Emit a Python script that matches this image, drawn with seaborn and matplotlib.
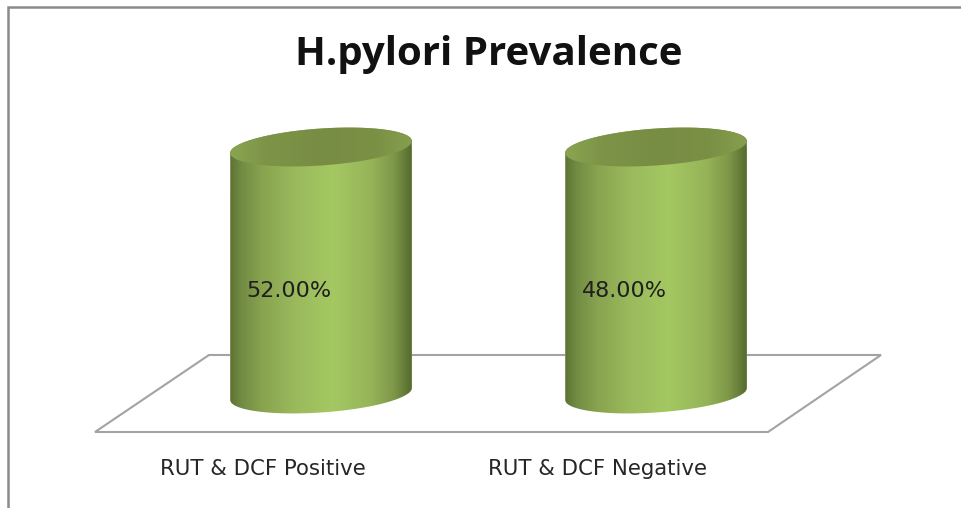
import numpy as np
import seaborn as sns
import matplotlib.pyplot as plt
from matplotlib.colors import LinearSegmentedColormap
from matplotlib.path import Path
from matplotlib.patches import PathPatch, Polygon
from matplotlib.transforms import ScaledTranslation

categories = ["RUT & DCF Positive", "RUT & DCF Negative"]
values = [52.0, 48.0]
title = "H.pylori Prevalence"

W, H = 961, 508

sns.set_theme(style="white")
plt.rcParams["font.family"] = ["Open Sans", "DejaVu Sans"]

fig = plt.figure(figsize=(W / 100, H / 100), dpi=100, facecolor="white")

# back layer in image pixels: frame, floor, title
back = fig.add_axes([0, 0, 1, 1], zorder=0)
back.set_xlim(0, W)
back.set_ylim(H, 0)
back.axis("off")
back.plot([8, 8, W], [H, 7, 7], color="#8a8a8a", lw=1.8, solid_joinstyle="miter")
back.add_patch(Polygon([(95, 432), (768, 432), (881, 355), (209, 355)], closed=True,
                       fill=False, edgecolor="#a3a3a3", lw=1.5))
back.text(489, 54, title, ha="center", va="center", fontsize=29, fontweight="bold", color="#111111")

# the bars, the value axis stops below both values as in the original
ax = fig.add_axes([153.5 / W, (H - 394) / H, 670 / W, 247 / H], zorder=1)
ax.patch.set_alpha(0)
sns.barplot(x=categories, y=values, color="#9bbb59", width=0.542, ax=ax)
ax.set_xlim(-0.5, 1.5)
ax.set_ylim(0, 45)
ax.set_yticks([])
ax.set_xlabel("")
ax.set_ylabel("")
sns.despine(ax=ax, left=True, bottom=True)
ax.tick_params(axis="x", length=0, pad=47, labelsize=15.3)
shift = ScaledTranslation(-58 / 100, 0, fig.dpi_scale_trans)
for lab in ax.get_xticklabels():
    lab.set_transform(lab.get_transform() + shift)
    lab.set_fontfamily("DejaVu Sans")
    lab.set_color("#262626")

# top layer: cylinder shading built on the seaborn bars
top = fig.add_axes([0, 0, 1, 1], zorder=2)
top.patch.set_alpha(0)
top.set_xlim(0, W)
top.set_ylim(H, 0)
top.axis("off")

body_cmap = LinearSegmentedColormap.from_list("body", [
    (0.0, "#5d7334"), (0.06, "#728b43"), (0.18, "#88a44f"), (0.35, "#9ab95c"),
    (0.57, "#a4c862"), (0.78, "#95b358"), (0.9, "#7e9849"), (1.0, "#566b2f")])
cap_cmap = LinearSegmentedColormap.from_list("cap", [
    (0.0, "#8aa551"), (0.2, "#7d9448"), (0.5, "#788d44"), (0.8, "#7a9045"), (1.0, "#869f4e")])
ramp = np.linspace(0, 1, 256).reshape(1, -1)
tilt = -0.066
minor = 18.5

for bar, val in zip(ax.containers[0], values):
    x0, y0 = ax.transData.transform((bar.get_x(), 0))
    x1, y1 = ax.transData.transform((bar.get_x() + bar.get_width(), min(bar.get_height(), ax.get_ylim()[1])))
    left, right = x0, x1
    base, roof = H - y0, H - y1
    cx = (left + right) / 2
    a = (right - left) / 2

    t = np.linspace(0, 2 * np.pi, 200)
    # lower half of the bottom ellipse runs from right end to left end
    t_low = np.linspace(0, np.pi, 100)
    low = np.c_[cx + a * np.cos(t_low), base + tilt * a * np.cos(t_low) + minor * np.sin(t_low)]
    # far side of the top ellipse goes back from left end to right end
    t_up = np.linspace(np.pi, 2 * np.pi, 100)
    up = np.c_[cx + a * np.cos(t_up), roof + tilt * a * np.cos(t_up) + minor * np.sin(t_up)]
    outline = np.vstack([low, up, low[:1]])
    bar.set_clip_path(PathPatch(Path(outline), transform=top.transData))
    body = top.imshow(ramp, cmap=body_cmap, extent=(left, right, base + 25, roof - 25),
                      aspect="auto", interpolation="bilinear", zorder=2)
    body.set_clip_path(PathPatch(Path(outline), transform=top.transData))

    cap_xy = np.c_[cx + a * np.cos(t), roof + tilt * a * np.cos(t) + minor * np.sin(t)]
    cap = top.imshow(ramp, cmap=cap_cmap, extent=(left, right, roof + 25, roof - 25),
                     aspect="auto", interpolation="bilinear", zorder=3)
    cap.set_clip_path(PathPatch(Path(cap_xy), transform=top.transData))

    top.annotate(f"{val:.2f}%", xy=(cx, (base + roof) / 2), xytext=(-32 * 0.72, -21 * 0.72),
                 textcoords="offset points", ha="center", va="center",
                 fontsize=16, family="DejaVu Sans", color="#1f1f1f", zorder=4)

top.set_xlim(0, W)
top.set_ylim(H, 0)

fig.savefig("out.png", dpi=100)
